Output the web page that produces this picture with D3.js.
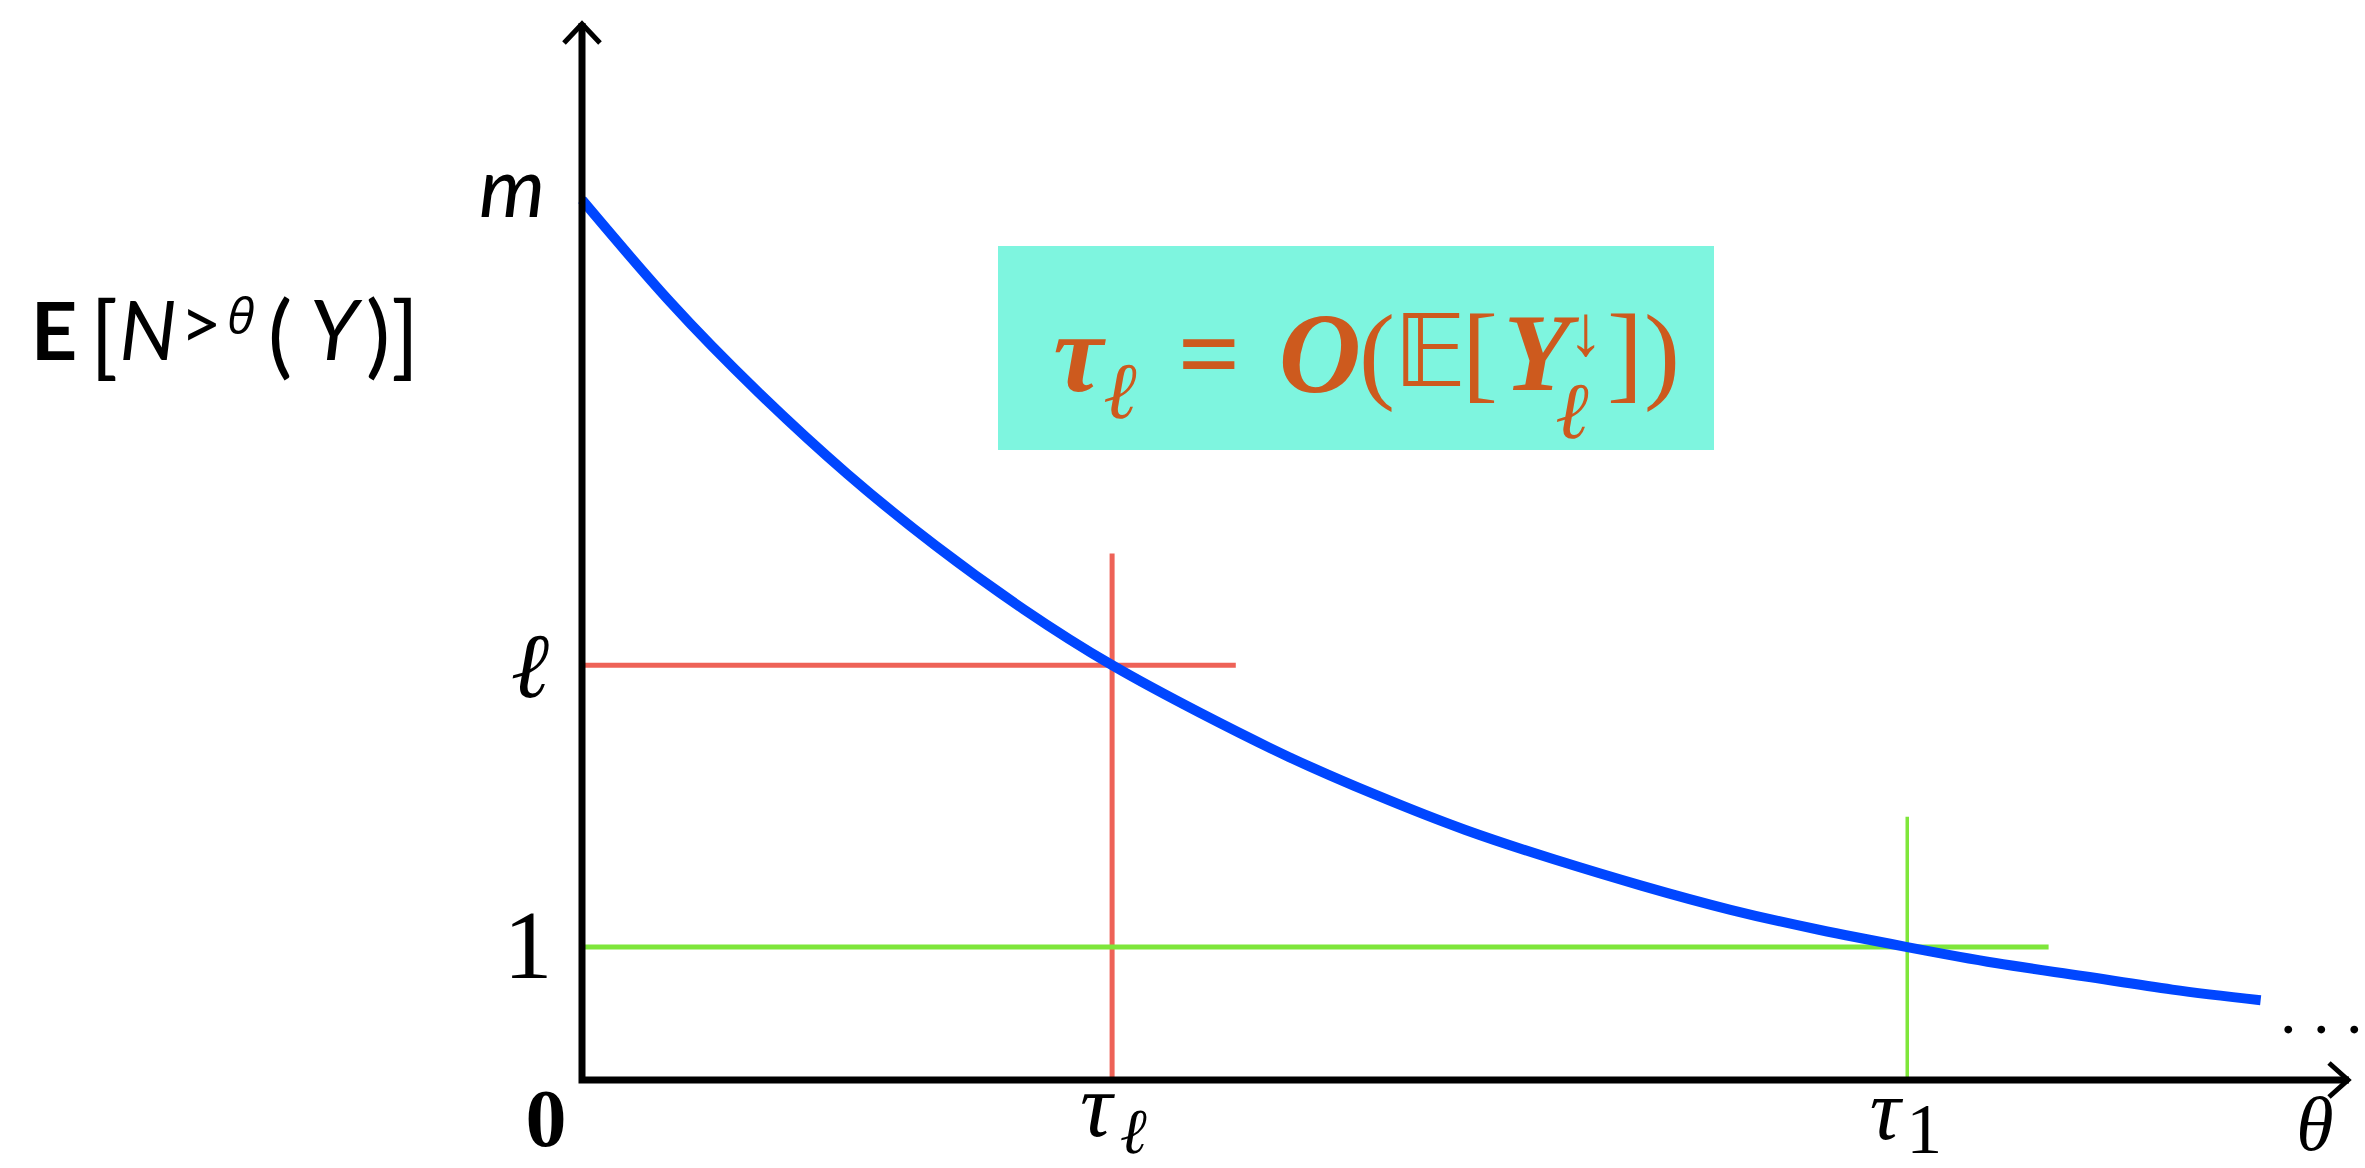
<!DOCTYPE html>
<html>
<head>
<meta charset="utf-8">
<script src="https://cdn.jsdelivr.net/npm/d3@7"></script>
<style>
  html, body { margin: 0; padding: 0; background: #ffffff; }
  svg { display: block; }
</style>
</head>
<body>
<svg id="chart" width="2365" height="1168"></svg>
<script>
// Expected count of items above threshold θ, as a decreasing curve
const thetaValues   = [0, 0.5, 1.0, 1.5, 2.0, 2.5, 3.0, 3.5, 4.0, 4.5, 5.0, 5.5, 6.0, 6.5, 7.0, 7.5, 8.0, 8.5, 9.0, 9.5];
const expectedCount = [6.62, 5.85, 5.17, 4.56, 4.02, 3.54, 3.12, 2.76, 2.43, 2.14, 1.88, 1.66, 1.46, 1.28, 1.13, 1.0, 0.88, 0.78, 0.68, 0.60];

// Reference levels on the vertical axis
const levelNames  = ["0", "1", "ℓ", "m"];
const levelValues = [0, 1, 3.12, 6.62];

// Threshold positions on the horizontal axis
const thresholdBase   = ["τ", "τ"];
const thresholdSub    = ["ℓ", "1"];
const thresholdValues = [3.0, 7.5];

// Crosshair guides: level, threshold, horizontal reach, vertical reach
const guideLevels     = [3.12, 1.0];
const guideThresholds = [3.0, 7.5];
const guideHReach     = [3.70, 8.30];
const guideVReach     = [3.96, 1.98];
const guideColors     = ["#ee6257", "#7ee63a"];

const xMax = 10, yMax = 7.95;

const svg = d3.select("#chart");
const x = d3.scaleLinear().domain([0, xMax]).range([582, 2349]);
const y = d3.scaleLinear().domain([0, yMax]).range([1080, 23]);

svg.append("rect").attr("width", 2365).attr("height", 1168).attr("fill", "#fff");

// Guide lines (drawn under the curve)
guideLevels.forEach((lv, i) => {
  svg.append("line")
    .attr("x1", x(0)).attr("x2", x(guideHReach[i]))
    .attr("y1", y(lv)).attr("y2", y(lv))
    .attr("stroke", guideColors[i]).attr("stroke-width", 5);
  svg.append("line")
    .attr("x1", x(guideThresholds[i])).attr("x2", x(guideThresholds[i]))
    .attr("y1", y(0)).attr("y2", y(guideVReach[i]))
    .attr("stroke", guideColors[i]).attr("stroke-width", i === 0 ? 5 : 3.5);
});

// Curve
const pts = thetaValues.map((t, i) => [t, expectedCount[i]]);
svg.append("path")
  .datum(pts)
  .attr("fill", "none")
  .attr("stroke", "#0046ff")
  .attr("stroke-width", 10)
  .attr("d", d3.line().x(d => x(d[0])).y(d => y(d[1])).curve(d3.curveNatural));

// Axes with open arrowheads
const axisG = svg.append("g");
axisG.append("path")
  .attr("d", `M${x(0)},${y(yMax)} V${y(0)} H${x(xMax)}`)
  .attr("fill", "none").attr("stroke", "#000").attr("stroke-width", 7)
  .attr("stroke-linejoin", "miter");
axisG.append("path")
  .attr("d", `M${x(0) - 18},${y(yMax) + 20} L${x(0)},${y(yMax) + 1} L${x(0) + 18},${y(yMax) + 20}`)
  .attr("fill", "none").attr("stroke", "#000").attr("stroke-width", 5);
axisG.append("path")
  .attr("d", `M${x(xMax) - 20},${y(0) - 17} L${x(xMax) - 1},${y(0)} L${x(xMax) - 20},${y(0) + 17}`)
  .attr("fill", "none").attr("stroke", "#000").attr("stroke-width", 5);

const serif = "'Liberation Serif', 'DejaVu Serif', serif";
const sans = "Lato, 'Open Sans', 'Liberation Sans', sans-serif";

function txt(g, px, py, s, o) {
  o = o || {};
  return g.append("text")
    .attr("x", px).attr("y", py)
    .attr("text-anchor", o.anchor || "middle")
    .attr("font-family", o.family || serif)
    .attr("font-size", o.size || 80)
    .attr("font-style", o.italic ? "italic" : "normal")
    .attr("font-weight", o.bold ? "bold" : "normal")
    .attr("fill", o.fill || "#000")
    .text(s);
}

// Vertical-axis level labels
const lab = svg.append("g");
levelNames.forEach((name, i) => {
  const py = y(levelValues[i]);
  if (name === "0") txt(lab, 546, py + 66, name, { size: 82, bold: true });
  else if (name === "1") txt(lab, 528, py + 31, name, { size: 98 });
  else if (name === "ℓ") txt(lab, 530, py + 32, name, { size: 92, italic: true });
  else txt(lab, 512, py + 17, name, { size: 84, italic: true, family: sans });
});

// Horizontal-axis threshold labels
thresholdValues.forEach((t, i) => {
  const px = x(t);
  if (thresholdSub[i] === "ℓ") {
    txt(lab, px - 16, 1136, thresholdBase[i], { size: 90, italic: true });
    txt(lab, px + 21, 1153, thresholdSub[i], { size: 64, italic: true });
  } else {
    txt(lab, px - 22, 1139, thresholdBase[i], { size: 86, italic: true });
    txt(lab, px + 17, 1153, thresholdSub[i], { size: 72 });
  }
});
txt(lab, 2315, 1150, "θ", { size: 76, italic: true });
txt(lab, 2280, 1033, ". . .", { size: 66, anchor: "start" });

// Vertical-axis title E[N^{>θ}(Y)]
const yt = svg.append("g");
txt(yt, 54, 360, "E", { family: sans, size: 81, bold: true });
txt(yt, 104, 368, "[", { family: sans, size: 92 });
txt(yt, 148, 360, "N", { family: sans, size: 81, italic: true });
txt(yt, 201, 349, ">", { family: sans, size: 72 });
txt(yt, 241, 334, "θ", { family: "'Open Sans', 'DejaVu Sans', sans-serif", size: 50, italic: true });
txt(yt, 280, 367, "(", { family: sans, size: 92 });
txt(yt, 334, 360, "Y", { family: sans, size: 84, italic: true });
txt(yt, 378, 367, ")", { family: sans, size: 92 });
txt(yt, 405, 368, "]", { family: sans, size: 92 });

// Annotation box with the threshold estimate
const note = svg.append("g");
note.append("rect")
  .attr("x", 998).attr("y", 246).attr("width", 716).attr("height", 204)
  .attr("fill", "#7ef5df");
const ink = "#cd5a1e";
txt(note, 1078, 391, "τ", { size: 112, italic: true, bold: true, fill: ink });
txt(note, 1120, 418, "ℓ", { size: 80, italic: true, fill: ink });
txt(note, 1209, 391, "=", { size: 110, bold: true, fill: ink });
txt(note, 1320, 392, "O", { size: 114, italic: true, bold: true, fill: ink });
txt(note, 1377, 389, "(", { size: 108, fill: ink });
txt(note, 1430, 386, "𝔼", { size: 100, fill: ink, family: "'DejaVu Sans', 'DejaVu Serif', serif" });
txt(note, 1480, 389, "[", { size: 108, fill: ink });

// Y with its superscript arrow and subscript ℓ, kept in one text element
const yGroup = note.append("text")
  .attr("text-anchor", "middle")
  .attr("font-family", serif)
  .attr("fill", ink);
yGroup.append("tspan")
  .attr("x", 1537).attr("y", 390)
  .attr("font-size", 110).attr("font-style", "italic").attr("font-weight", "bold")
  .text("Y");
yGroup.append("tspan")
  .attr("x", 1586).attr("y", 355)
  .attr("font-size", 72)
  .text("↓");
yGroup.append("tspan")
  .attr("x", 1572).attr("y", 438)
  .attr("font-size", 80).attr("font-style", "italic")
  .text("ℓ");

txt(note, 1625, 389, "]", { size: 108, fill: ink });
txt(note, 1662, 389, ")", { size: 108, fill: ink });
</script>
</body>
</html>
